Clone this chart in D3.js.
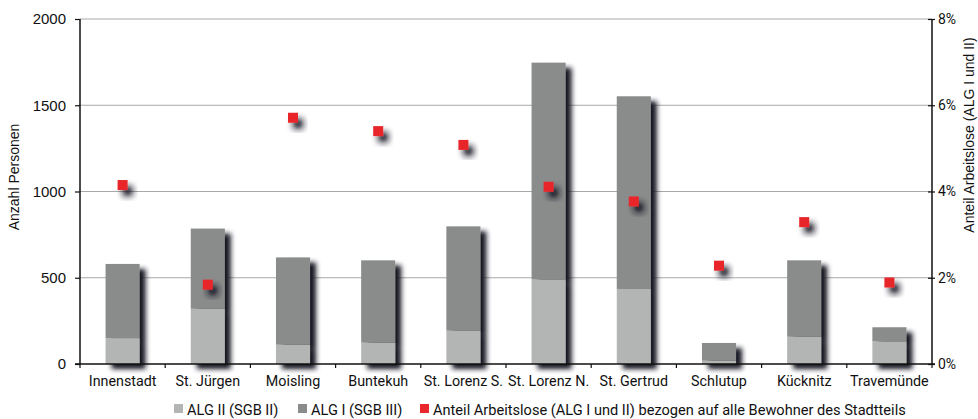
<!DOCTYPE html>
<html><head><meta charset="utf-8">
<script src="https://cdn.jsdelivr.net/npm/d3@7"></script>
<style>body{margin:0;background:#fff}svg{display:block}</style>
</head><body>
<svg id="c" width="978" height="419"></svg>
<script>
const categories = ["Innenstadt","St. Jürgen","Moisling","Buntekuh","St. Lorenz S.","St. Lorenz N.","St. Gertrud","Schlutup","Kücknitz","Travemünde"];
const alg2 = [150, 320, 112, 124, 193, 490, 435, 19, 158, 131];
const alg1 = [430, 465, 506, 477, 605, 1257, 1117, 103, 443, 82];
const anteil = [4.15, 1.84, 5.71, 5.40, 5.08, 4.11, 3.77, 2.28, 3.29, 1.89];
const leftTicks = [0, 500, 1000, 1500, 2000];
const rightTicks = [0, 2, 4, 6, 8];
const legendLabels = ["ALG II (SGB II)", "ALG I (SGB III)", "Anteil Arbeitslose (ALG I und II) bezogen auf alle Bewohner des Stadtteils"];

const C2 = "#b3b5b5", C1 = "#8a8c8c", RED = "#e8262b";
const svg = d3.select("#c");
const L = 80, R = 932, T = 19, B = 364;

const defs = svg.append("defs");
const f = defs.append("filter").attr("id","sh").attr("x","-50%").attr("y","-50%").attr("width","200%").attr("height","200%");
f.append("feDropShadow").attr("dx",6).attr("dy",5).attr("stdDeviation",2.8).attr("flood-color","#141424").attr("flood-opacity",1);
const f2 = defs.append("filter").attr("id","sh2").attr("x","-100%").attr("y","-100%").attr("width","300%").attr("height","300%");
f2.append("feDropShadow").attr("dx",5).attr("dy",6).attr("stdDeviation",3).attr("flood-color","#141424").attr("flood-opacity",1);

const x = d3.scaleBand().domain(categories).range([L, R]).paddingInner(0).paddingOuter(0);
const y = d3.scaleLinear().domain([0, 2000]).range([B, T]);
const y2 = d3.scaleLinear().domain([0, 8]).range([B, T]);

// grid
svg.append("g").selectAll("line").data(leftTicks.filter(d=>d>0)).join("line")
  .attr("x1", L).attr("x2", R).attr("y1", d=>y(d)).attr("y2", d=>y(d))
  .attr("stroke", "#a8a8a8").attr("stroke-width", 1);

// bars
const bw = x.bandwidth()*0.4;
const bars = svg.append("g");
categories.forEach((c,i)=>{
  const g = bars.append("g").attr("filter","url(#sh)");
  const x0 = x(c) + (x.bandwidth()-bw)/2;
  g.append("rect").attr("x", x0).attr("width", bw).attr("y", y(alg2[i])).attr("height", B - y(alg2[i])).attr("fill", C2);
  g.append("rect").attr("x", x0).attr("width", bw).attr("y", y(alg2[i]+alg1[i])).attr("height", y(alg2[i]) - y(alg2[i]+alg1[i])).attr("fill", C1);
});

// points
svg.append("g").selectAll("rect").data(categories).join("rect")
  .attr("x", c=>x(c)+x.bandwidth()/2-5).attr("y", (c,i)=>y2(anteil[i])-5)
  .attr("width", 10).attr("height", 10).attr("fill", RED).attr("filter","url(#sh2)");

// axes
const ax = svg.append("g").attr("transform", `translate(0,${B})`)
  .call(d3.axisBottom(x).tickSize(0).tickPadding(12));
ax.select(".domain").remove();
ax.selectAll("text").attr("font-family","Roboto").attr("font-size",14.3).attr("fill","#111");
svg.append("g").selectAll("line").data(d3.range(categories.length+1)).join("line")
  .attr("x1", i=>L + i*x.step()).attr("x2", i=>L + i*x.step()).attr("y1", B).attr("y2", B+4)
  .attr("stroke","#111").attr("stroke-width",1.2);
svg.append("line").attr("x1",L-5).attr("x2",R+3).attr("y1",B).attr("y2",B).attr("stroke","#111").attr("stroke-width",1.5);

const ay = svg.append("g").attr("transform", `translate(${L},0)`)
  .call(d3.axisLeft(y).tickValues(leftTicks).tickSize(5).tickPadding(9).tickFormat(d3.format("d")));
ay.select(".domain").attr("d", `M0,${B}V${T}`).attr("stroke","#111").attr("stroke-width",1.5);
ay.selectAll(".tick line").attr("stroke","#111").attr("stroke-width",1.2);
ay.selectAll("text").attr("font-family","Liberation Sans").attr("font-size",15).attr("fill","#111");

const ar = svg.append("g").attr("transform", `translate(${R},0)`)
  .call(d3.axisRight(y2).tickValues(rightTicks).tickSize(3).tickPadding(3).tickFormat(d=>d+"%"));
ar.select(".domain").attr("d", `M0,${B}V${T}`).attr("stroke","#111").attr("stroke-width",1.5);
ar.selectAll(".tick line").attr("x1",-4).attr("stroke","#111").attr("stroke-width",1.2);
ar.selectAll("text").attr("font-family","Roboto").attr("font-size",14).attr("fill","#111");

// axis titles
svg.append("text").attr("transform","translate(19,177) rotate(-90)").attr("text-anchor","middle")
  .attr("font-family","Liberation Sans").attr("font-size",14).attr("fill","#111").text("Anzahl Personen");
svg.append("text").attr("transform","translate(974,135) rotate(-90)").attr("text-anchor","middle")
  .attr("font-family","Liberation Sans").attr("font-size",14).attr("fill","#111").text("Anteil Arbeitslose (ALG I und II)");

// legend
const lx = [174, 298, 420], lc = [C2, C1, RED];
const lg = svg.append("g").attr("font-family","Roboto").attr("font-size",14.6).attr("fill","#111");
legendLabels.forEach((t,i)=>{
  lg.append("rect").attr("x", lx[i]).attr("y", 404).attr("width", 9).attr("height", 9).attr("fill", lc[i]);
  lg.append("text").attr("x", lx[i]+13).attr("y", 414.5).text(t);
});
</script>
</body></html>
